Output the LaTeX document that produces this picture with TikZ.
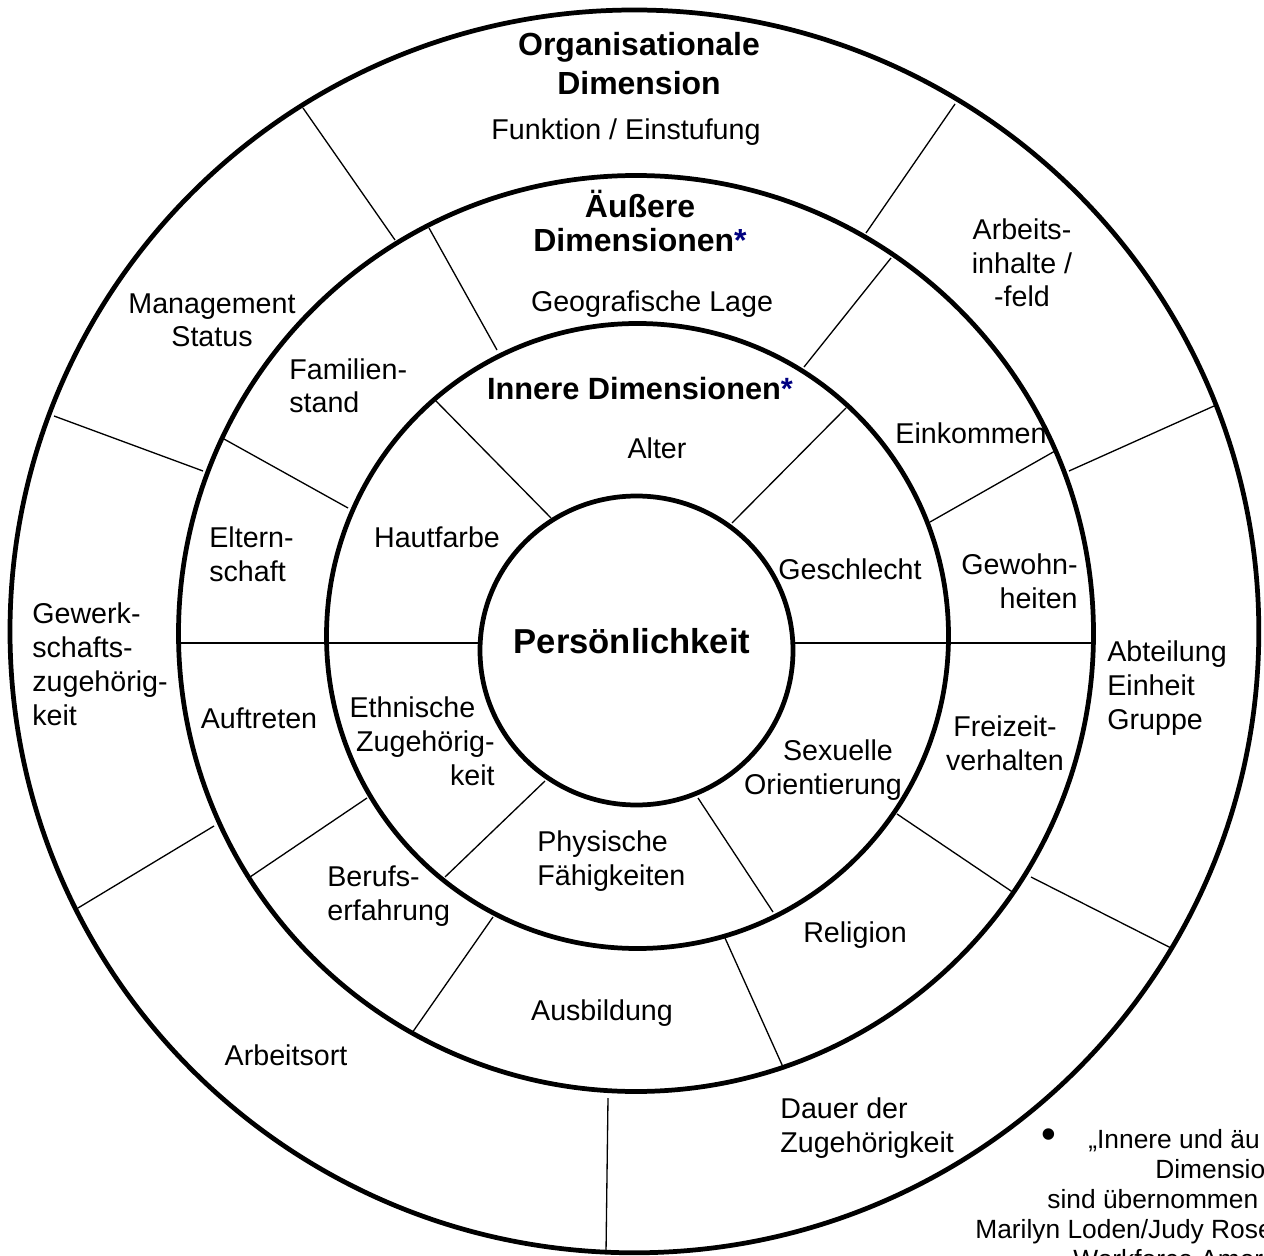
\documentclass[tikz,border=0pt]{standalone}
\usepackage{fontspec}
\setmainfont{Liberation Sans}
\usepackage{xcolor}
\usepackage{tikz}
\definecolor{DVNavy}{HTML}{000080}
\newcommand{\dvstar}{\textcolor{DVNavy}{*}}
\newcommand{\lblsize}{\fontsize{16.3}{19.3}\selectfont}
\newcommand{\headsize}{\fontsize{18.2}{22.7}\selectfont}
\newcommand{\notesize}{\fontsize{15}{17}\selectfont}

\begin{document}
\begin{tikzpicture}[
        x=0.02cm, y=-0.02cm,
        ring/.style={line width=2.7pt},
        cut/.style={line width=0.75pt},
        lbl/.style={font=\lblsize,inner sep=0pt,anchor=base,align=center},
        lblw/.style={lbl,anchor=base west,align=left},
        lble/.style={lbl,anchor=base east,align=right},
        head/.style={lbl,font=\headsize\bfseries},
        note/.style={font=\notesize,inner sep=0pt,anchor=base west}
      ]
      \useasboundingbox (0,0) rectangle (1264,1256);

      % the four rings
      \draw[ring] (634.4,631.4) ellipse [x radius=624.4, y radius=621.4];
      \draw[ring] (636,633.5) ellipse [x radius=457.5, y radius=458];
      \draw[ring] (637.5,636) ellipse [x radius=311, y radius=312.5];
      \draw[ring] (636.5,650.5) ellipse [x radius=156.5, y radius=154.5];

      % organisationale dimension
      \draw[cut] (303,108) -- (395,240);
      \draw[cut] (955,104) -- (866,233);
      \draw[cut] (54,416) -- (203,471);
      \draw[cut] (1214,406) -- (1069,471);
      \draw[cut] (78,908) -- (214,826);
      \draw[cut] (608,1098) -- (606,1253);
      \draw[cut] (1173,949) -- (1031,877);

      % aeussere dimensionen
      \draw[cut] (429,228) -- (497,350);
      \draw[cut] (891,258) -- (804,367);
      \draw[cut] (224,439) -- (348,508);
      \draw[cut] (1055,451) -- (930,522);
      \draw[cut] (250,877) -- (367,798);
      \draw[cut] (1014,893) -- (897,814);
      \draw[cut] (493,917) -- (412,1033);
      \draw[cut] (725,938) -- (783,1067);

      % innere dimensionen
      \draw[cut] (435,400) -- (551,518);
      \draw[cut] (846,408) -- (732,523);
      \draw[cut] (445,877) -- (545,781);
      \draw[cut] (698,798) -- (773,912);
      \draw[cut] (178.5,643) -- (480,643);
      \draw[cut] (793,643) -- (1093.5,643);

      % multi-line labels sit on the baseline of their last line
      \node[head] (orga) at (639,95) {Organisationale\\Dimension};
      \node[lbl] (funktion) at (626,140) {Funktion / Einstufung};
      \node[head,font=\fontsize{18.2}{19.8}\selectfont\bfseries] (aeussere) at (640,252) {Äußere\\Dimensionen\dvstar};
      \node[lbl] (geolage) at (652,312) {Geografische Lage};
      \node[head,font=\fontsize{17.5}{20}\selectfont\bfseries] (innere) at (640,400) {Innere Dimensionen\dvstar};
      \node[lbl] (alter) at (657,459) {Alter};

      \node[lbl] (management) at (212,347) {Management\\Status};
      \node[lblw] (familien) at (289,413) {Familien-\\stand};
      \node[lbl] (arbeitsinhalte) at (1022,307) {Arbeits-\\inhalte /\\-feld};
      \node[lbl] (einkommen) at (971,444) {Einkommen};
      \node[lbl] (hautfarbe) at (437,547) {Hautfarbe};
      \node[lblw] (elternschaft) at (209,581) {Eltern-\\schaft};
      \node[lblw] (gewerkschaft) at (32,725) {Gewerk-\\schafts-\\zugehörig-\\keit};
      \node[lbl] (geschlecht) at (850,579) {Geschlecht};
      \node[lble] (gewohnheiten) at (1078,608) {Gewohn-\\heiten};

      \node[lbl,font=\fontsize{19.7}{23}\selectfont\bfseries] (persoenlichkeit) at (632,653) {Persönlichkeit};

      \node[lbl] (auftreten) at (259,728) {Auftreten};
      \node[lble] (ethnisch) at (495,785) {Ethnische\hspace*{11pt}\\Zugehörig-\\keit};
      \node[lblw] (berufs) at (327,920) {Berufs-\\erfahrung};
      \node[lblw] (physisch) at (537,885) {Physische\\Fähigkeiten};
      \node[lbl] (ausbildung) at (602,1020) {Ausbildung};
      \node[lbl] (arbeitsort) at (286,1065) {Arbeitsort};
      \node[lbl] (sexuell) at (823,794) {\hspace*{17pt}Sexuelle\\Orientierung};
      \node[lbl] (freizeit) at (1005,770) {Freizeit-\\verhalten};
      \node[lblw] (abteilung) at (1107,729) {Abteilung\\Einheit\\Gruppe};
      \node[lbl] (religion) at (855,942) {Religion};
      \node[lblw] (dauer) at (780,1152) {Dauer der\\Zugehörigkeit};

      \node[font=\fontsize{24}{24}\selectfont,inner sep=0pt] (bullet) at (1049,1139) {•};
      \node[note] (quelle1) at (1088,1148) {„Innere und äu};
      \node[note] (quelle2) at (1155,1178) {Dimensio};
      \node[note] (quelle3) at (1047,1208) {sind übernommen};
      \node[note] (quelle4) at (975,1238) {Marilyn Loden/Judy Rose};
      \node[note] (quelle5) at (1073,1268) {Workforce Amer};
    \end{tikzpicture}
\end{document}
